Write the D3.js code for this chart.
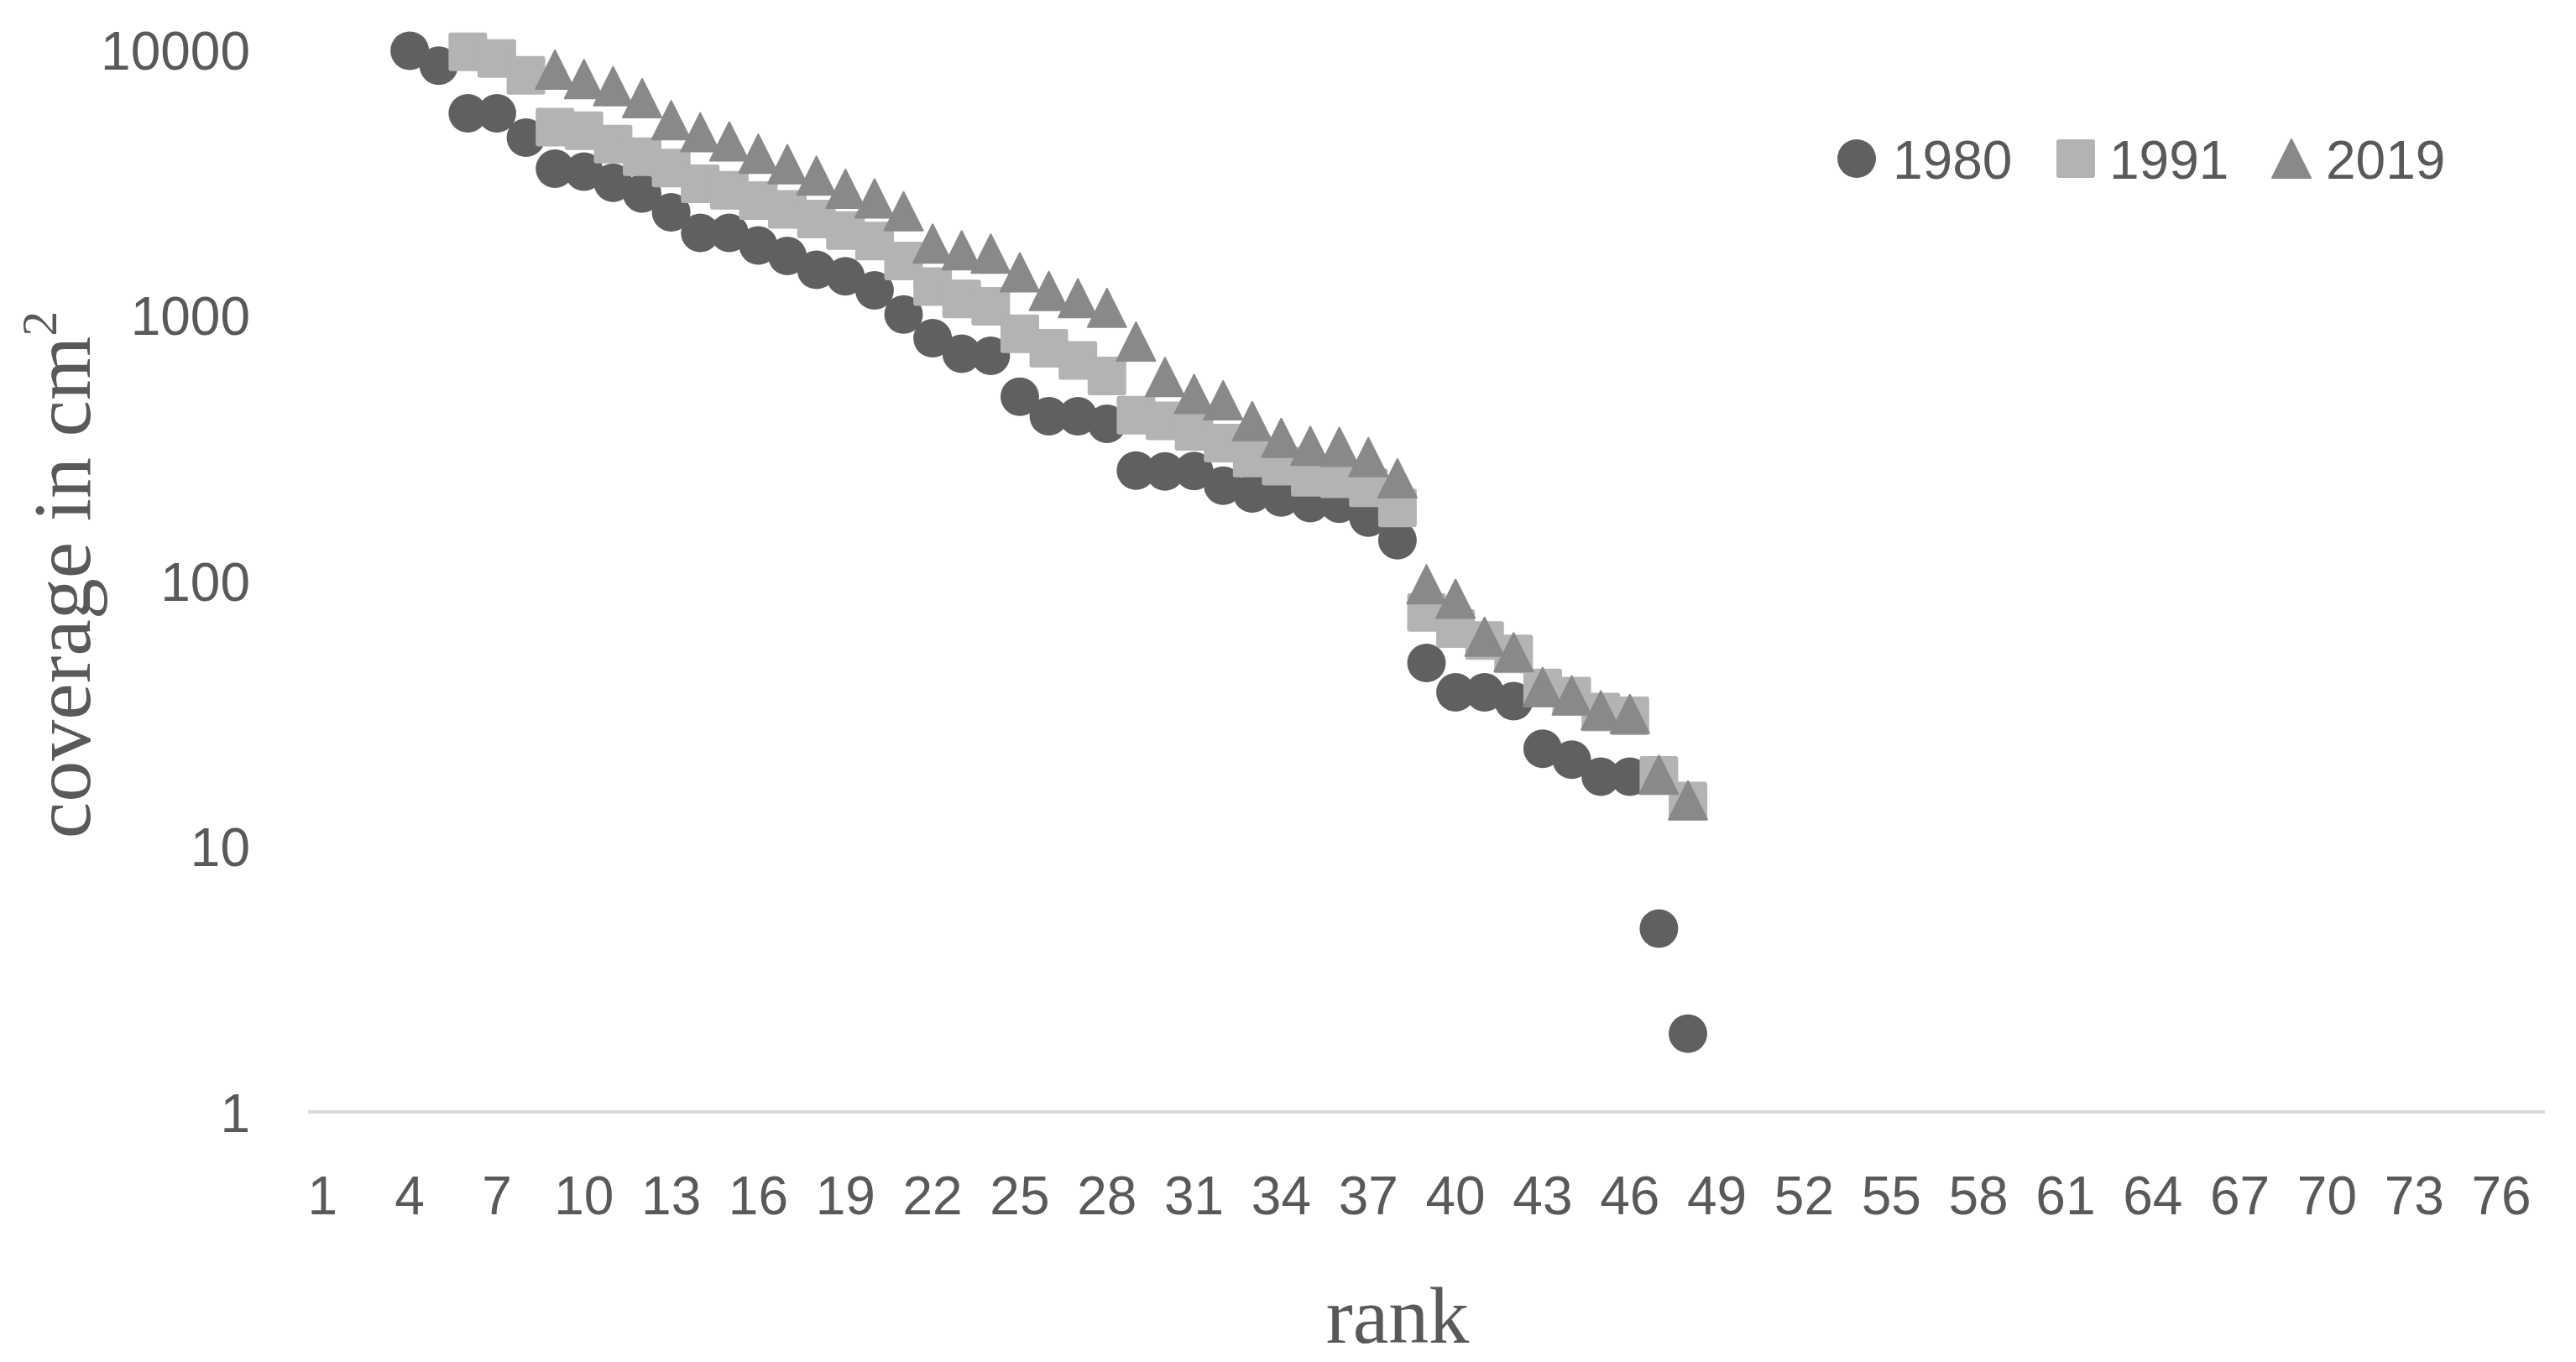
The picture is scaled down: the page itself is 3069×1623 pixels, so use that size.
<!DOCTYPE html>
<html>
<head>
<meta charset="utf-8">
<script src="https://cdn.jsdelivr.net/npm/d3@7"></script>
<style>
  html, body { margin: 0; padding: 0; background: #ffffff; }
  svg { display: block; }
</style>
</head>
<body>
<svg id="chart" width="3069" height="1623"></svg>
<script>
// ---- data ----
const rankCategories = d3.range(1, 78);           // category axis 1..77
const xTickLabels = d3.range(1, 77, 3);            // 1, 4, 7, ... 76
const yTickValues = [1, 10, 100, 1000, 10000];

const ranks1980 = d3.range(4, 49);
const values1980 = [9900, 8690, 5750, 5750, 4660, 3560, 3470, 3150, 2870, 2440,
  2040, 2040, 1830, 1670, 1480, 1400, 1240, 1005, 818, 716,
  703, 493, 416, 416, 390, 260, 258, 259, 228, 213,
  206, 196, 195, 173, 142, 49, 38, 38, 35.2, 23.3,
  21.2, 18.3, 18.3, 4.9, 1.97];

const ranks1991 = d3.range(6, 49);
const values1991 = [9800, 9250, 8000, 5100, 4950, 4400, 3950, 3580, 3120, 2950,
  2700, 2500, 2300, 2080, 1900, 1600, 1280, 1150, 1080, 850,
  750, 675, 590, 420, 400, 365, 330, 290, 270, 245,
  242, 224, 188, 76, 66, 59.5, 53, 39.5, 36.8, 32,
  31, 18.5, 14.8];

const ranks2019 = d3.range(9, 49);
const values2019 = [8400, 7740, 7280, 6560, 5420, 4880, 4510, 4050, 3700, 3350,
  2990, 2750, 2460, 1860, 1755, 1705, 1450, 1233, 1158, 1065,
  795, 585, 505, 478, 399, 345, 322, 319, 292, 243,
  97, 85.5, 61.5, 53.8, 39.8, 37, 32.5, 31.5, 18.6, 14.9];

const seriesNames = ["1980", "1991", "2019"];

// ---- layout ----
const svg = d3.select("#chart");
const plot = { left: 367, right: 3032, top: 59, bottom: 1325 };
const textColor = "#595959";
const colors = { "1980": "#606060", "1991": "#b3b3b3", "2019": "#898989" };
const sansFont = "'Liberation Sans', Arial, sans-serif";
const serifFont = "'Liberation Serif', 'Times New Roman', serif";

const x = d3.scaleBand().domain(rankCategories).range([plot.left, plot.right]).padding(0);
const y = d3.scaleLog().domain([1, 10000]).range([plot.bottom, plot.top]);
const cx = r => x(r) + x.bandwidth() / 2;

// marker shapes
const M = 46;
function drawMarker(g, type, px, py) {
  if (type === "1980") {
    g.append("circle").attr("cx", px).attr("cy", py).attr("r", M / 2)
      .attr("fill", colors[type]);
  } else if (type === "1991") {
    g.append("rect").attr("x", px - M / 2).attr("y", py - M / 2)
      .attr("width", M).attr("height", M).attr("rx", 3)
      .attr("fill", colors[type]);
  } else {
    const w = 46, h = 46;
    g.append("path")
      .attr("d", `M${px},${py - h / 2} L${px + w / 2},${py + h / 2} L${px - w / 2},${py + h / 2} Z`)
      .attr("fill", colors[type]).attr("stroke", colors[type])
      .attr("stroke-width", 2).attr("stroke-linejoin", "round");
  }
}

// ---- axis line ----
svg.append("line")
  .attr("x1", plot.left).attr("x2", plot.right)
  .attr("y1", y(1)).attr("y2", y(1))
  .attr("stroke", "#d9d9d9").attr("stroke-width", 4);

// ---- y axis labels ----
const yAxis = d3.axisLeft(y).tickValues(yTickValues).tickFormat(d3.format("d")).tickSize(0).tickPadding(0);
const yg = svg.append("g").attr("transform", `translate(298,0)`).call(yAxis);
yg.select(".domain").remove();
yg.selectAll("text")
  .attr("font-family", sansFont).attr("font-size", 64)
  .attr("fill", textColor).attr("dy", "0.36em").attr("x", 0);

// ---- x axis labels ----
const xAxis = d3.axisBottom(x).tickValues(xTickLabels).tickSize(0).tickPadding(0);
const xg = svg.append("g").attr("transform", `translate(0,1447)`).call(xAxis);
xg.select(".domain").remove();
xg.selectAll("text")
  .attr("font-family", sansFont).attr("font-size", 64)
  .attr("fill", textColor).attr("dy", 0).attr("y", 0);

// ---- series ----
const seriesData = {
  "1980": ranks1980.map((r, i) => ({ r, v: values1980[i] })),
  "1991": ranks1991.map((r, i) => ({ r, v: values1991[i] })),
  "2019": ranks2019.map((r, i) => ({ r, v: values2019[i] }))
};
seriesNames.forEach(name => {
  const g = svg.append("g").attr("class", "series-" + name);
  seriesData[name].forEach(d => drawMarker(g, name, cx(d.r), y(d.v)));
});

// ---- legend ----
const legendItems = [
  { name: "1980", mx: 2212, tx: 2255 },
  { name: "1991", mx: 2473, tx: 2513 },
  { name: "2019", mx: 2730, tx: 2771 }
];
const lg = svg.append("g").attr("class", "legend");
legendItems.forEach(it => {
  drawMarker(lg, it.name, it.mx, 189);
  lg.append("text").attr("x", it.tx).attr("y", 213)
    .attr("font-family", sansFont).attr("font-size", 64)
    .attr("fill", textColor).text(it.name);
});

// ---- axis titles ----
svg.append("text")
  .attr("x", 1665).attr("y", 1600).attr("text-anchor", "middle")
  .attr("font-family", serifFont).attr("font-size", 96)
  .attr("fill", textColor).text("rank");

const yt = svg.append("text")
  .attr("transform", "translate(107,685) rotate(-90)")
  .attr("text-anchor", "middle")
  .attr("font-family", serifFont).attr("font-size", 98)
  .attr("fill", textColor);
yt.append("tspan").text("coverage in cm");
yt.append("tspan").attr("font-size", 60).attr("dy", -40).text("2");
</script>
</body>
</html>
